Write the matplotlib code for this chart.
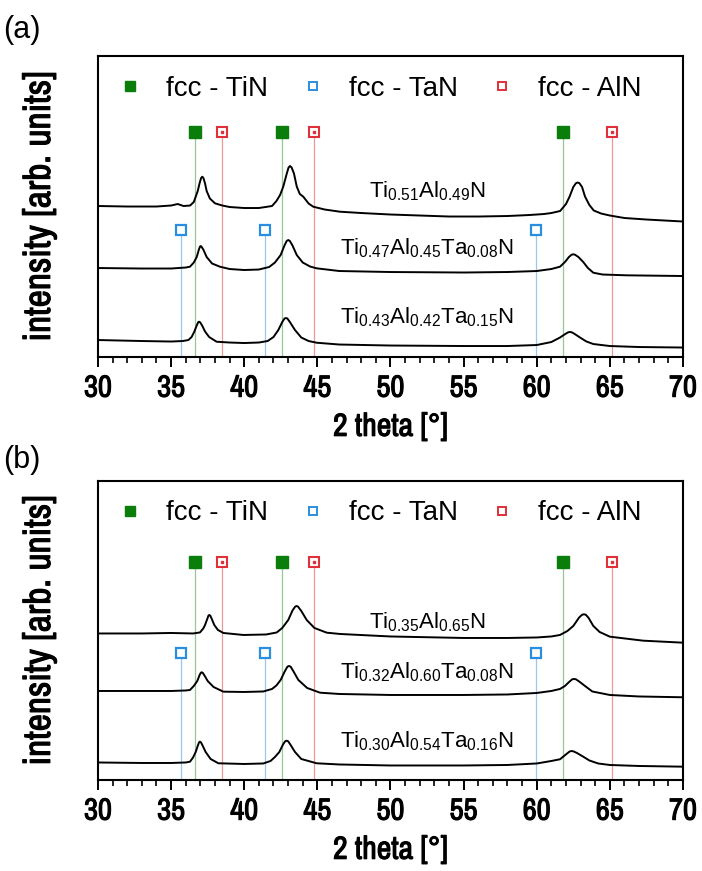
import matplotlib
matplotlib.use("Agg")
import matplotlib.pyplot as plt
import matplotlib.patheffects as pe
from matplotlib.lines import Line2D
from matplotlib.ticker import MultipleLocator
from matplotlib import font_manager

# reference peak positions (2 theta, deg)
tin_pos = [36.63, 42.60, 61.80]
tan_pos = [35.65, 41.45, 59.95]
aln_pos = [38.50, 44.80, 65.15]

# panel (a) patterns, intensity in arb. units
a1_x = [30, 32, 34, 35, 35.45, 35.85, 36.3, 36.55, 36.82, 36.95, 37.05, 37.13, 37.21, 37.32, 37.43, 37.65,
        38.0, 38.5, 39, 40, 41, 41.9, 42.2, 42.45, 42.67, 42.9, 43.03, 43.13, 43.24, 43.4, 43.59, 43.8,
        44.04, 44.4, 44.72, 45.5, 46.55, 48, 50, 52, 54, 56, 58, 59.5, 60.5, 61.0, 61.6, 62.0, 62.25,
        62.5, 62.68, 62.8, 62.92, 63.1, 63.3, 63.6, 63.9, 64.4, 65.0, 66, 67.5, 70]
a1_y = [151, 150.5, 150.5, 151.5, 153, 151, 151.5, 155, 166, 174, 179, 180.3, 179, 173.5, 166, 158.5,
        153.7, 151.5, 150, 149, 149, 151, 156, 162, 170.5, 183, 189.5, 191, 189.5, 183.5, 170.5, 163,
        160.3, 153.5, 150.3, 147.5, 145.3, 144, 142.5, 141.5, 140.5, 140.5, 141, 142, 143, 144, 146, 153, 160.5,
        170, 173.8, 174.5, 173.8, 170, 160.5, 152, 146.5, 143.5, 141.5, 139, 137.5, 135.5]

a2_x = [30, 33, 35, 36.0, 36.29, 36.55, 36.75, 36.9, 36.97, 37.02, 37.08, 37.2, 37.43, 37.8, 38.34, 39,
        40, 41, 41.7, 42.1, 42.49, 42.75, 42.9, 43.01, 43.12, 43.3, 43.59, 44.0, 44.5, 44.95, 46.5, 50,
        55, 58, 60, 61.0, 61.59, 61.93, 62.2, 62.38, 62.5, 62.62, 62.85, 63.18, 63.5, 63.87, 64.5, 66.15, 70]
a2_y = [89, 88.5, 88.5, 89.5, 90.3, 94.5, 100, 107.5, 110.3, 111, 110.3, 107.5, 100, 93.5, 90.3, 88,
        87, 87.5, 90, 94.5, 102, 111.5, 116, 117, 116, 111.5, 102, 94.5, 90.5, 88.7, 86, 85,
        84.5, 85, 86, 88, 90.3, 95, 100, 102.3, 102.7, 102.3, 100, 95, 89, 84.3, 82.5, 81.7, 81]

a3_x = [30, 33, 35, 35.8, 36.18, 36.4, 36.59, 36.75, 36.85, 36.91, 36.98, 37.12, 37.32, 37.6, 38.11, 39,
        40, 41, 41.6, 42.0, 42.33, 42.6, 42.75, 42.85, 42.95, 43.12, 43.47, 43.9, 44.4, 44.95, 46.5, 50,
        55, 58, 60, 61.0, 61.59, 61.95, 62.15, 62.27, 62.4, 62.6, 62.96, 63.4, 63.87, 65, 67, 70]
a3_y = [17, 16, 15.5, 16, 17, 20, 25.5, 31.5, 34.8, 35.3, 34.8, 31.5, 25.5, 20, 15.3, 14.5,
        14, 14.5, 16, 20, 27, 35, 38.5, 39, 38.5, 35, 27, 19.5, 16, 14.3, 12.5, 11.5,
        11, 11, 12, 15, 19.5, 23, 24.7, 25, 24.7, 23, 19.5, 15.5, 13, 11, 10, 9.5]

# panel (b) patterns
b1_x = [30, 33, 35, 36.5, 36.97, 37.2, 37.32, 37.47, 37.55, 37.61, 37.68, 37.78, 37.95, 38.2, 38.57, 39.94,
        41.5, 42.22, 42.6, 43.01, 43.3, 43.48, 43.58, 43.68, 43.9, 44.27, 44.8, 45.64, 46.55, 50, 55,
        58, 60, 61.0, 61.59, 62.1, 62.5, 62.9, 63.1, 63.23, 63.36, 63.55, 63.87, 64.3, 65.0, 67.28, 70]
b1_y = [146.5, 146.5, 147, 146.5, 147.5, 151.5, 155, 161, 164.3, 165, 164.3, 161, 155, 150, 147, 145,
        145.5, 147.5, 152, 160, 169.5, 173.3, 174, 173.3, 169, 160, 152, 147.3, 146, 143.5, 142,
        142, 142.5, 143.5, 145, 149, 154, 162.5, 165.2, 165.7, 165.2, 162, 154, 148, 143.3, 139.3, 137.3]

b2_x = [30, 33, 35, 36.0, 36.29, 36.55, 36.79, 36.95, 37.03, 37.09, 37.17, 37.3, 37.5, 37.9, 38.57, 40,
        41.3, 41.9, 42.2, 42.49, 42.75, 42.95, 43.06, 43.17, 43.35, 43.7, 44.3, 45.18, 46.5, 50, 55,
        58, 60, 61.0, 61.59, 61.93, 62.25, 62.43, 62.55, 62.68, 62.9, 63.3, 63.8, 65.0, 67, 70]
b2_y = [89, 89, 89, 89.5, 90, 94, 99, 105, 107.2, 107.7, 107, 104, 99, 93, 88.3, 88,
        88.5, 91, 94.5, 100, 108, 113.3, 114, 113.3, 109, 100, 92, 87.3, 86, 85, 85,
        85.5, 87, 89, 91, 94, 98.5, 100.7, 101, 100.7, 98.5, 94, 88.5, 85, 83.5, 82.7]

b3_x = [30, 33, 35, 36.0, 36.29, 36.5, 36.68, 36.83, 36.91, 36.97, 37.04, 37.15, 37.36, 37.7, 38.23, 40,
        41.3, 41.8, 42.1, 42.4, 42.65, 42.8, 42.9, 43.0, 43.15, 43.47, 43.9, 44.95, 46.5, 50, 55,
        58, 60, 61.0, 61.59, 61.95, 62.25, 62.39, 62.53, 62.75, 63.18, 63.6, 64.2, 65.0, 67, 70]
b3_y = [17.5, 17, 17, 17.5, 18.3, 22.5, 28, 34.5, 37.6, 38.3, 37.6, 34.5, 28, 21, 16.7, 16,
        16.5, 19, 23, 28, 35.5, 38.7, 39.3, 38.7, 35.5, 28, 21, 16.7, 15.5, 14.5, 14.5,
        15, 16.5, 19, 20.7, 25, 28.5, 29, 28.5, 27, 23.3, 19.5, 16.5, 15, 14, 13.3]

labels_a = [r"Ti$_{\mathrm{0.51}}$Al$_{\mathrm{0.49}}$N",
            r"Ti$_{\mathrm{0.47}}$Al$_{\mathrm{0.45}}$Ta$_{\mathrm{0.08}}$N",
            r"Ti$_{\mathrm{0.43}}$Al$_{\mathrm{0.42}}$Ta$_{\mathrm{0.15}}$N"]
labels_b = [r"Ti$_{\mathrm{0.35}}$Al$_{\mathrm{0.65}}$N",
            r"Ti$_{\mathrm{0.32}}$Al$_{\mathrm{0.60}}$Ta$_{\mathrm{0.08}}$N",
            r"Ti$_{\mathrm{0.30}}$Al$_{\mathrm{0.54}}$Ta$_{\mathrm{0.16}}$N"]
label_y_a = [160, 103, 34]
label_y_b = [152, 102, 33]

# marker heights: (TiN/AlN row, TaN row) and y-limit per panel
marks_a = (225, 127)
marks_b = (218, 127)
ylim_a = 301
ylim_b = 299

plt.rcParams['font.family'] = ['Liberation Sans', 'DejaVu Sans']
plt.rcParams['mathtext.fontset'] = 'custom'
plt.rcParams['mathtext.rm'] = 'Liberation Sans'
plt.rcParams['mathtext.it'] = 'Liberation Sans:italic'
plt.rcParams['mathtext.bf'] = 'Liberation Sans:bold'

# condensed face for axis text (Arial Narrow look-alike), thickened with a stroke
names = {f.name for f in font_manager.fontManager.ttflist}
narrow = 'Archivo Narrow' if 'Archivo Narrow' in names else 'Liberation Sans'
heavy = [pe.withStroke(linewidth=0.8, foreground='black')]

c_tin, c_tin_l = '#0b7d0b', '#93c993'
c_tan, c_tan_l = '#2a8ee0', '#9cc6ea'
c_aln, c_aln_l = '#e0303a', '#eb9a9a'


def draw_panel(ax, curves, labels, label_y, marks, ytop):
    for pos in tin_pos:
        ax.plot([pos, pos], [0, marks[0]], color=c_tin_l, lw=0.9, zorder=1)
        ax.plot(pos, marks[0], marker='s', ms=8, color=c_tin, mec=c_tin, ls='none', zorder=3)
    for pos in aln_pos:
        ax.plot([pos, pos], [0, marks[0]], color=c_aln_l, lw=0.9, zorder=1)
        ax.plot(pos, marks[0], marker='s', ms=7.5, mfc='white', mec=c_aln, mew=1.5, ls='none', zorder=3)
        ax.plot(pos, marks[0], marker='s', ms=1.6, color=c_aln, ls='none', zorder=4)
    for pos in tan_pos:
        ax.plot([pos, pos], [0, marks[1]], color=c_tan_l, lw=0.9, zorder=1)
        ax.plot(pos, marks[1], marker='s', ms=7.5, mfc='white', mec=c_tan, mew=1.6, ls='none', zorder=3)

    for x, y in curves:
        ax.plot(x, y, color='black', lw=1.4, zorder=2)
    for lab, ly in zip(labels, label_y):
        ax.text(52.5, ly, lab, fontsize=16, ha='center', va='baseline')

    ax.set_xlim(30, 70)
    ax.set_ylim(0, ytop)
    ax.set_yticks([])
    ax.xaxis.set_major_locator(MultipleLocator(5))
    ax.xaxis.set_minor_locator(MultipleLocator(1))
    ax.tick_params(axis='x', which='major', direction='out', length=7, width=1.4, pad=5)
    ax.tick_params(axis='x', which='minor', direction='out', length=4, width=1.2)
    for lbl in ax.get_xticklabels():
        lbl.set_fontfamily(narrow)
        lbl.set_fontweight('bold')
        lbl.set_fontsize(22)
        lbl.set_path_effects(heavy)
    for s in ax.spines.values():
        s.set_linewidth(1.5)
    ax.set_xlabel('2 theta [°]', fontfamily=narrow, fontweight='bold', fontsize=23, labelpad=8,
                  path_effects=heavy)
    ax.set_ylabel('intensity [arb. units]', fontfamily=narrow, fontweight='bold', fontsize=27,
                  path_effects=heavy)
    ax.yaxis.set_label_coords(-0.072, 0.5)

    handles = [Line2D([], [], marker='s', ls='none', ms=7, color=c_tin),
               Line2D([], [], marker='s', ls='none', ms=6, mfc='white', mec=c_tan, mew=1.4),
               Line2D([], [], marker='s', ls='none', ms=6, mfc='white', mec=c_aln, mew=1.4)]
    ax.legend(handles, ['fcc - TiN', 'fcc - TaN', 'fcc - AlN'], ncol=3, frameon=False,
              fontsize=20, loc='upper left', bbox_to_anchor=(0.031, 0.935), borderaxespad=0,
              borderpad=0, handlelength=1.0, handletextpad=0.8, columnspacing=1.1)


fig = plt.figure(figsize=(7.02, 8.71), dpi=100)
ax_a = fig.add_axes([0.1396, 0.5901, 0.8333, 0.3456])
ax_b = fig.add_axes([0.1396, 0.1045, 0.8333, 0.3433])

draw_panel(ax_a, [(a1_x, a1_y), (a2_x, a2_y), (a3_x, a3_y)], labels_a, label_y_a, marks_a, ylim_a)
draw_panel(ax_b, [(b1_x, b1_y), (b2_x, b2_y), (b3_x, b3_y)], labels_b, label_y_b, marks_b, ylim_b)

fig.text(0.031, 0.9656, '(a)', fontsize=22, ha='center', va='center')
fig.text(0.031, 0.472, '(b)', fontsize=22, ha='center', va='center')

fig.savefig('out.png', dpi=100)
